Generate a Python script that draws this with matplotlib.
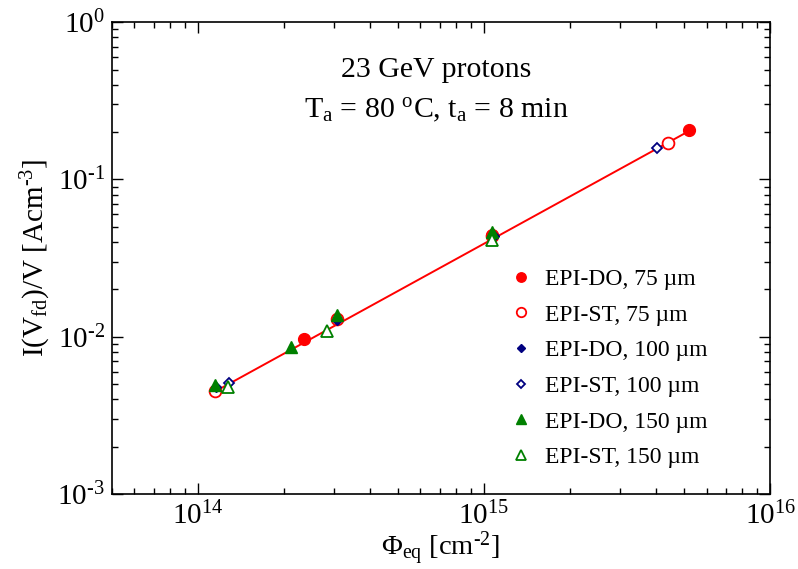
import numpy as np
import matplotlib
matplotlib.use("Agg")
import matplotlib.pyplot as plt
from matplotlib.ticker import FuncFormatter

plt.rcParams['font.family'] = ['Liberation Serif', 'DejaVu Serif']
plt.rcParams['mathtext.fontset'] = 'custom'
plt.rcParams['mathtext.rm'] = 'Liberation Serif'
plt.rcParams['mathtext.it'] = 'Liberation Serif:italic'
plt.rcParams['mathtext.bf'] = 'Liberation Serif:bold'
plt.rcParams['mathtext.default'] = 'regular'

# fluence [cm^-2] and I(Vfd)/V [A/cm^3] per series
do75_x = [2.35e14, 1.07e15, 5.2e15]
do75_y = [0.0096, 0.0445, 0.205]
st75_x = [1.15e14, 3.06e14, 1.07e15, 4.4e15]
st75_y = [0.00452, 0.0129, 0.0436, 0.170]
do100_x = [1.16e14, 3.06e14, 1.08e15]
do100_y = [0.00475, 0.0128, 0.0436]
st100_x = [1.28e14, 4.03e15]
st100_y = [0.0051, 0.158]
do150_x = [1.15e14, 2.11e14, 3.06e14, 1.07e15]
do150_y = [0.0049, 0.0086, 0.0137, 0.0462]
st150_x = [1.27e14, 2.83e14, 1.07e15]
st150_y = [0.0048, 0.0109, 0.0412]

# linear fit I/V = alpha * Phi
fit_alpha = 3.9e-17
fit_range = [1.14e14, 5.2e15]


def pow10(v, pos):
    e = int(round(np.log10(v)))
    if e < 0:
        return r'$10^{\text{-%d}}$' % (-e)
    return r'$10^{%d}$' % e


fig = plt.figure(figsize=(7.98, 5.69), dpi=100)
ax = fig.add_axes([0.140, 0.132, 0.825, 0.829])

fx = np.array(fit_range)
ax.plot(fx, fit_alpha * fx, color='red', lw=1.4, zorder=1)

ms = 8.5
ax.plot(do75_x, do75_y, 'o', color='red', ms=ms, label='EPI-DO, 75 µm', zorder=3)
ax.plot(st75_x, st75_y, 'o', mfc='white', mec='red', mew=1.3, ms=ms, label='EPI-ST, 75 µm', zorder=2)
ax.plot(do100_x, do100_y, 'D', color='#000080', ms=5.5, label='EPI-DO, 100 µm', zorder=3)
ax.plot(st100_x, st100_y, 'D', mfc='white', mec='#000080', mew=1.3, ms=5.5, label='EPI-ST, 100 µm', zorder=3)
ax.plot(do150_x, do150_y, '^', color='green', ms=ms, label='EPI-DO, 150 µm', zorder=4)
ax.plot(st150_x, st150_y, '^', mfc='white', mec='green', mew=1.3, ms=ms, label='EPI-ST, 150 µm', zorder=4)

ax.set_xscale('log')
ax.set_yscale('log')
ax.set_xlim(5e13, 1e16)
ax.set_ylim(1e-3, 1)
ax.xaxis.set_major_formatter(FuncFormatter(pow10))
ax.yaxis.set_major_formatter(FuncFormatter(pow10))

ax.tick_params(which='both', direction='in', top=True, right=True, labelsize=21, width=1)
ax.tick_params(which='major', length=8)
ax.tick_params(which='minor', length=4)
ax.tick_params(axis='x', pad=6)
ax.tick_params(axis='y', pad=5)
for s in ax.spines.values():
    s.set_linewidth(1.2)

ax.set_xlabel(r'$\Phi_{eq}$ [cm$^{\text{-2}}$]', fontsize=20.5, labelpad=-0.5)
ax.set_ylabel(r'I(V$_{fd}$)/V [Acm$^{\text{-3}}$]', fontsize=21, labelpad=3)

ax.text(0.493, 0.899, '23 GeV protons', transform=ax.transAxes, ha='center', va='center', fontsize=21.5)
ax.text(0.493, 0.811, r'T$_{a}$ = 80 $^{o}$C, t$_{a}$ = 8 min', transform=ax.transAxes,
        ha='center', va='center', fontsize=21.5)

leg = ax.legend(loc='upper left', bbox_to_anchor=(0.603, 0.478), frameon=False, fontsize=17,
                markerscale=0.8, handlelength=1.0, handletextpad=0.55, labelspacing=0.6,
                numpoints=1, borderpad=0, borderaxespad=0)

fig.savefig('out.png', dpi=100)
